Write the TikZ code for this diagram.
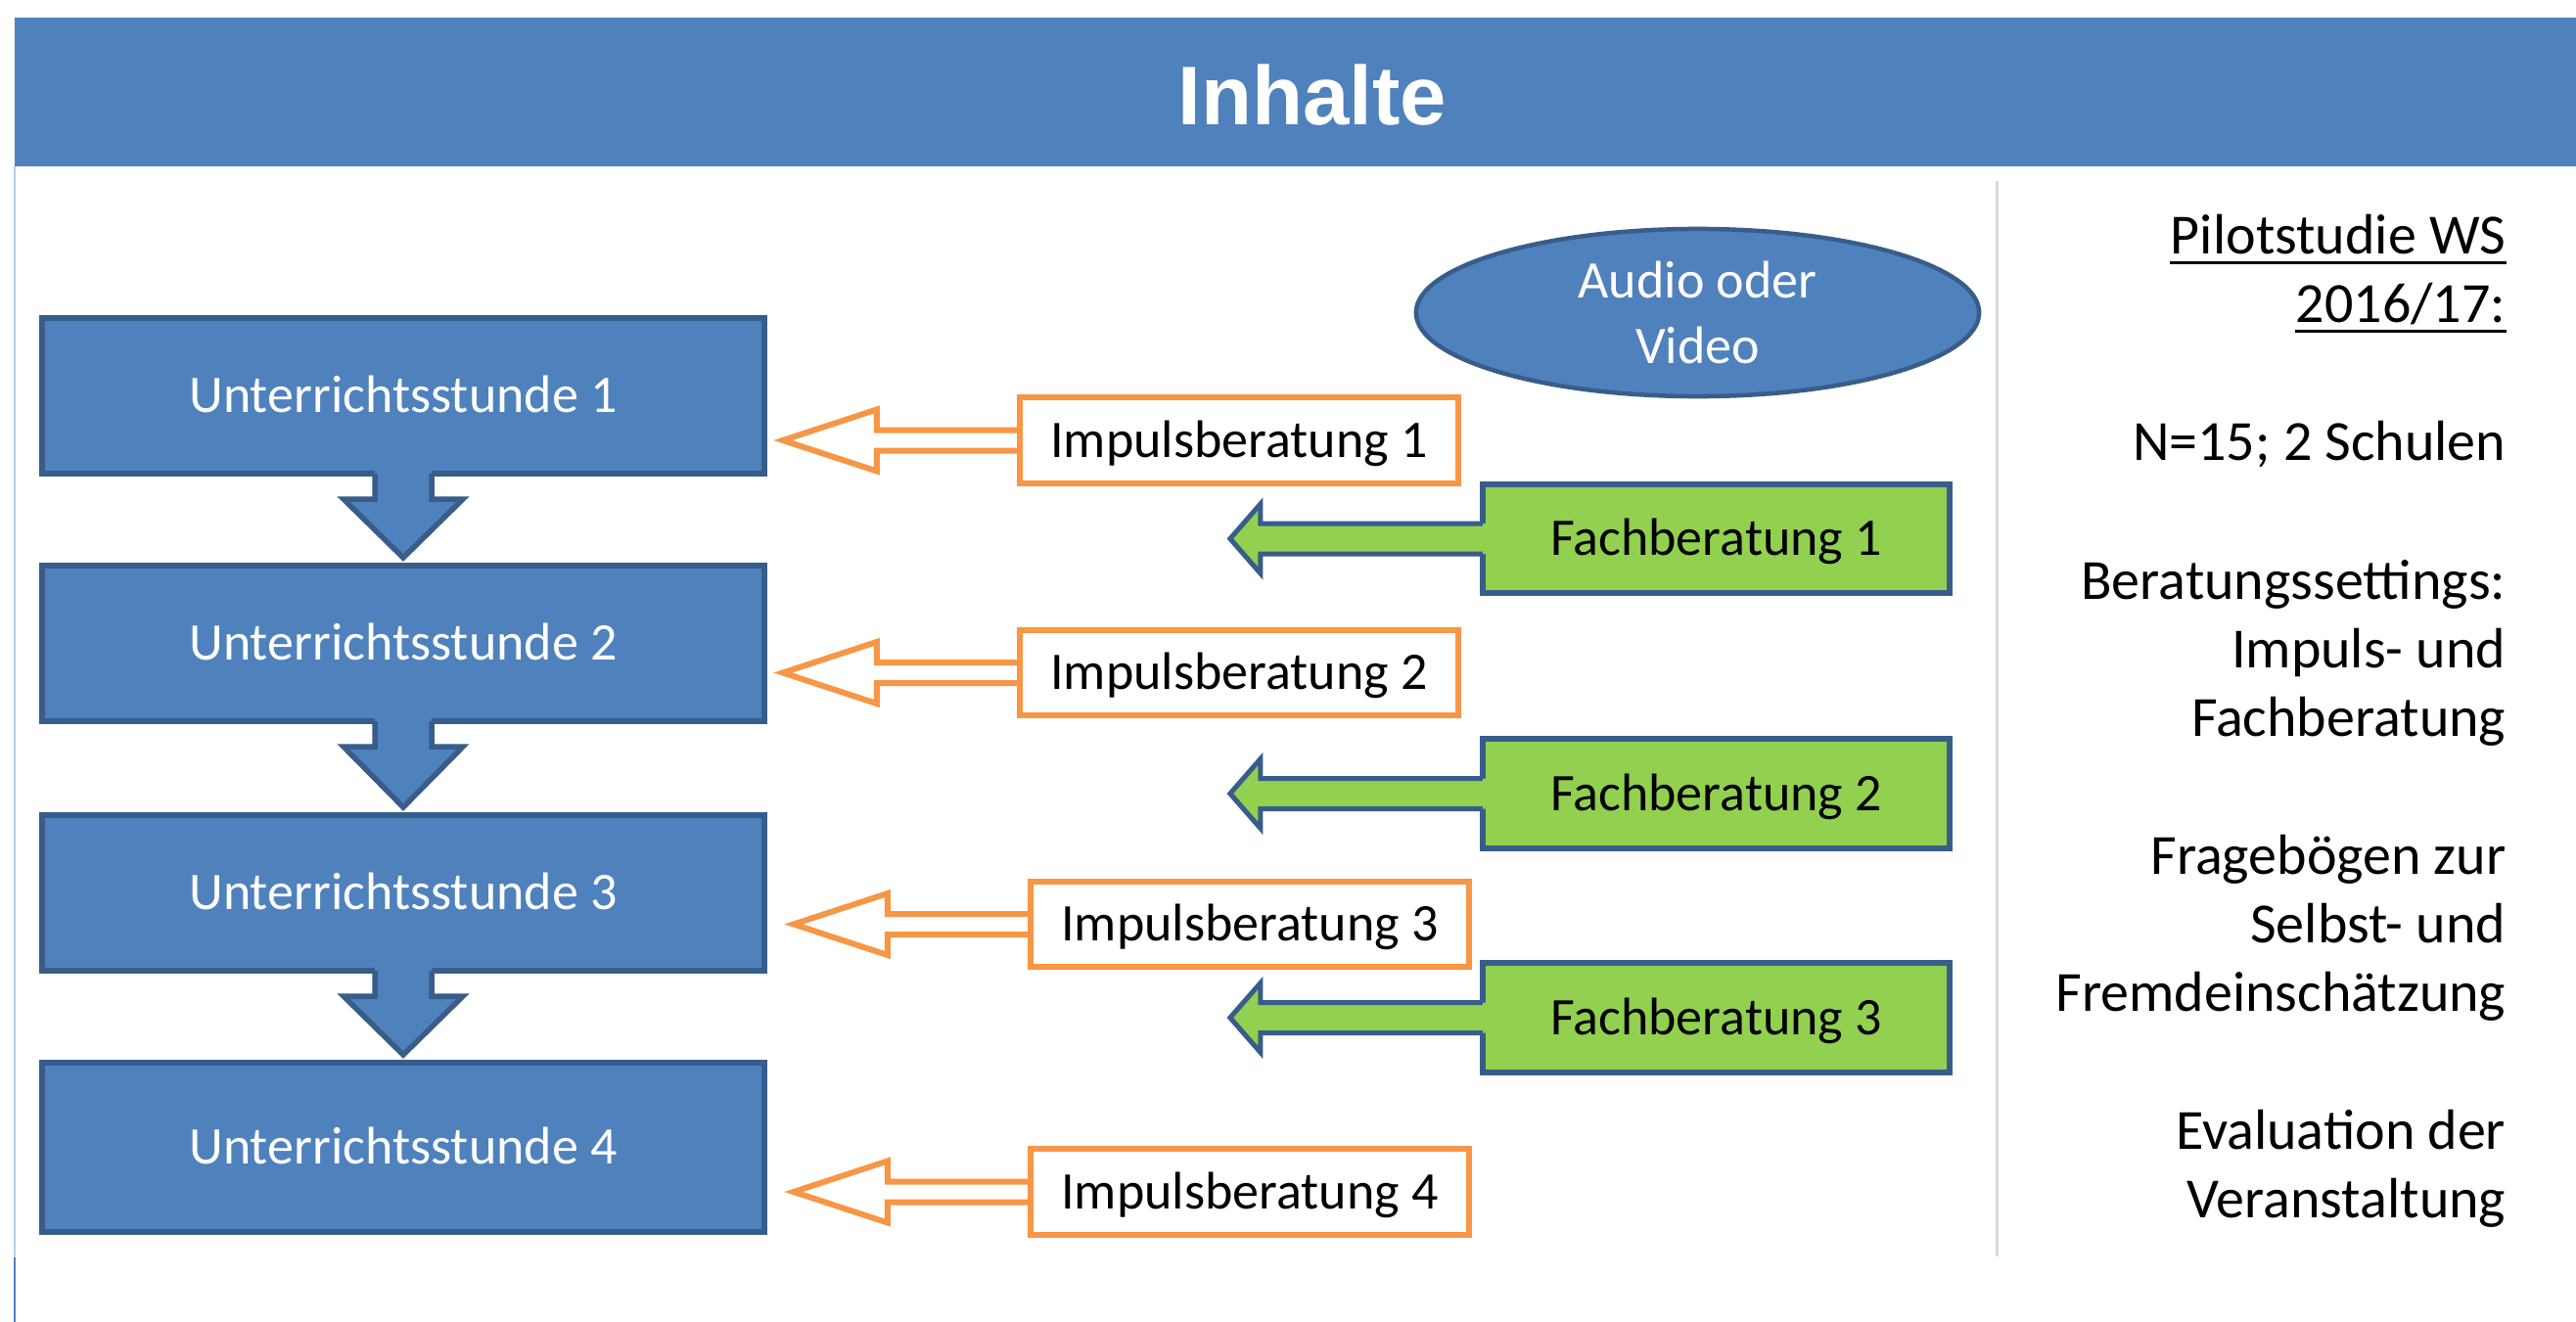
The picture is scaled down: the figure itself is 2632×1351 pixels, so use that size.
\documentclass[tikz,border=0pt]{standalone}
\usepackage{fontspec}
\setmainfont{Carlito}
\newfontfamily\ttlfamily{Liberation Sans}
\usetikzlibrary{calc,shapes.geometric}
\definecolor{hdrblue}{HTML}{4F81BD}
\definecolor{boxblue}{HTML}{4F81BD}
\definecolor{edgeblue}{HTML}{385D8A}
\definecolor{orangeC}{HTML}{F79646}
\definecolor{greenC}{HTML}{92D050}
\definecolor{divgray}{HTML}{D9D9D9}
\definecolor{lightline}{HTML}{B9CDE5}
\newcommand{\bxfont}{\fontsize{15.36}{19.06}\selectfont}
\newcommand{\sdfont}{\fontsize{16.5}{19.9}\selectfont}
\newcommand{\ttlfont}{\ttlfamily\bfseries\fontsize{24.2}{29}\selectfont}
\begin{document}
\begin{tikzpicture}[x=0.01cm, y=-0.01cm,
  stunde/.style={draw=edgeblue, fill=boxblue, line width=0.06cm, minimum width=7.38cm,
    minimum height=1.59cm, inner sep=0pt, outer sep=0pt, text=white, font=\bxfont,
    text height=9.9pt, text depth=0pt},
  impuls/.style={draw=orangeC, fill=white, line width=0.06cm, minimum width=4.48cm,
    minimum height=0.87cm, inner sep=0pt, outer sep=0pt, font=\bxfont,
    text height=9.9pt, text depth=0pt},
  fach/.style={draw=edgeblue, fill=greenC, line width=0.06cm, minimum width=4.77cm,
    minimum height=1.11cm, inner sep=0pt, outer sep=0pt, font=\bxfont,
    text height=9.9pt, text depth=0pt},
  sidetext/.style={anchor=base east, inner sep=0pt, font=\sdfont},
  orangearrow/.style={draw=orangeC, line width=0.06cm},
  greenarrowline/.style={draw=edgeblue, line width=0.05cm},
  downarrowline/.style={draw=edgeblue, line width=0.055cm}
]
\useasboundingbox (0,0) rectangle (2632,1351);
\fill[white] (0,0) rectangle (2632,1351);

% header
\node[fill=hdrblue, minimum width=26.17cm, minimum height=1.52cm, inner sep=0pt,
  outer sep=0pt, anchor=north west] (hdr) at (15,18) {};
\node[anchor=base, text=white, font=\ttlfont, inner sep=0pt] (title) at (1341,127) {Inhalte};

% frame lines
\coordinate (l1) at (15,170);
\coordinate (l2) at (15,1285);
\coordinate (l3) at (15,1351);
\draw[lightline, line width=0.02cm] (l1) -- (l2);
\draw[hdrblue, line width=0.02cm] (l2) -- (l3);
\coordinate (d1) at (2040,185);
\coordinate (d2) at (2040,1284);
\draw[divgray, line width=0.03cm] (d1) -- (d2);

% lesson boxes
\node[stunde] (u1) at (412,404.5) {Unterrichtsstunde 1};
\node[stunde] (u2) at (412,657.5) {Unterrichtsstunde 2};
\node[stunde] (u3) at (412,912.5) {Unterrichtsstunde 3};
\node[stunde, minimum height=1.73cm] (u4) at (412,1172.5) {Unterrichtsstunde 4};

% down arrows
\foreach \a/\b in {u1/u2,u2/u3,u3/u4}{
  \fill[boxblue] ($(\a.south)+(-29,-4)$) -- ($(\a.south)+(-29,26)$) -- ($(\a.south)+(-61,26)$)
    -- ($(\b.north)+(0,-8)$) -- ($(\a.south)+(61,26)$) -- ($(\a.south)+(29,26)$)
    -- ($(\a.south)+(29,-4)$) -- cycle;
  \draw[downarrowline] ($(\a.south)+(-29,0)$) -- ($(\a.south)+(-29,26)$) -- ($(\a.south)+(-61,26)$)
    -- ($(\b.north)+(0,-8)$) -- ($(\a.south)+(61,26)$) -- ($(\a.south)+(29,26)$)
    -- ($(\a.south)+(29,0)$);
}

% ellipse
\node[ellipse, draw=edgeblue, fill=boxblue, line width=0.045cm, minimum width=5.75cm,
  minimum height=1.71cm, inner sep=0pt, align=center, text=white, font=\bxfont]
  (av) at (1734.5,319.5) {Audio oder\\Video};

% Impuls boxes
\node[impuls] (i1) at (1266,450) {Impulsberatung 1};
\node[impuls] (i2) at (1266,687.5) {Impulsberatung 2};
\node[impuls] (i3) at (1277,944.5) {Impulsberatung 3};
\node[impuls] (i4) at (1277,1218) {Impulsberatung 4};

\foreach \i in {i1,i2,i3,i4}{
  \draw[orangearrow] ($(\i.west)+(-3,-10.5)$) -- ($(\i.west)+(-146,-10.5)$)
    -- ($(\i.west)+(-146,-31.5)$) -- ($(\i.west)+(-242,0)$) -- ($(\i.west)+(-146,31.5)$)
    -- ($(\i.west)+(-146,10.5)$) -- ($(\i.west)+(-3,10.5)$);
}

% Fach boxes
\node[fach] (f1) at (1753.5,550.5) {Fachberatung 1};
\node[fach] (f2) at (1753.5,811) {Fachberatung 2};
\node[fach] (f3) at (1753.5,1040) {Fachberatung 3};

\foreach \f in {f1,f2,f3}{
  \fill[greenC] ($(\f.west)+(4,-15.5)$) -- ($(\f.west)+(-227,-15.5)$) -- ($(\f.west)+(-227,-35.5)$)
    -- ($(\f.west)+(-258,0)$) -- ($(\f.west)+(-227,35.5)$) -- ($(\f.west)+(-227,15.5)$)
    -- ($(\f.west)+(4,15.5)$) -- cycle;
  \draw[greenarrowline] ($(\f.west)+(0,-15.5)$) -- ($(\f.west)+(-227,-15.5)$) -- ($(\f.west)+(-227,-35.5)$)
    -- ($(\f.west)+(-258,0)$) -- ($(\f.west)+(-227,35.5)$) -- ($(\f.west)+(-227,15.5)$)
    -- ($(\f.west)+(0,15.5)$);
}

% right column text
\node[sidetext] (r1) at (2561,259) {Pilotstudie WS};
\node[sidetext] (r2) at (2561,329) {2016/17:};
\draw[line width=0.03cm] ($(r1.base west)+(0,9.5)$) -- ($(r1.base east)+(0,9.5)$);
\draw[line width=0.03cm] ($(r2.base west)+(0,9.5)$) -- ($(r2.base east)+(0,9.5)$);
\node[sidetext] (r3) at (2561,470) {N=15; 2 Schulen};
\node[sidetext] (r4) at (2561,612) {Beratungssettings:};
\node[sidetext] (r5) at (2561,682) {Impuls- und};
\node[sidetext] (r6) at (2561,752) {Fachberatung};
\node[sidetext] (r7) at (2561,893) {Fragebögen zur};
\node[sidetext] (r8) at (2561,963) {Selbst- und};
\node[sidetext] (r9) at (2561,1033) {Fremdeinschätzung};
\node[sidetext] (r10) at (2561,1174) {Evaluation der};
\node[sidetext] (r11) at (2561,1244) {Veranstaltung};
\end{tikzpicture}
\end{document}
